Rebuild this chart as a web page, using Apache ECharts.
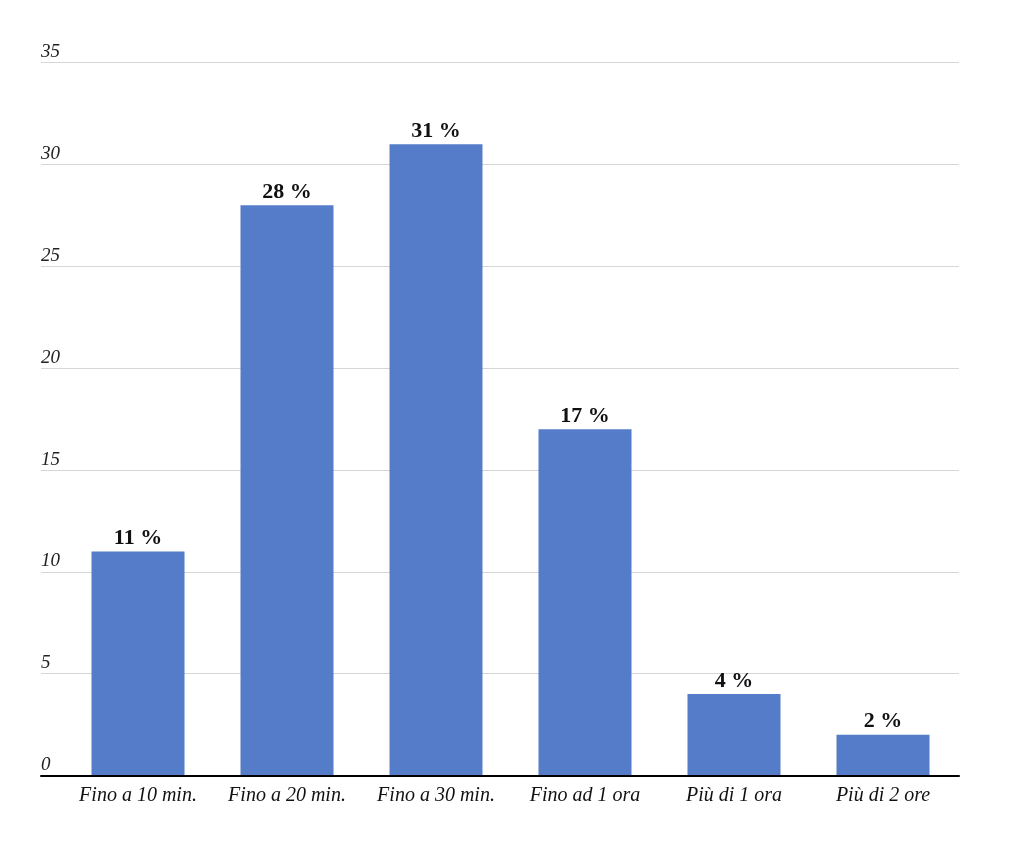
<!DOCTYPE html>
<html>
<head>
<meta charset="utf-8">
<script src="https://cdn.jsdelivr.net/npm/echarts@6/dist/echarts.min.js"></script>
<style>
html,body{margin:0;padding:0;background:#fff;}
#chart{width:1024px;height:844px;}
</style>
</head>
<body>
<div id="chart"></div>
<script>
const categories = ['Fino a 10 min.', 'Fino a 20 min.', 'Fino a 30 min.', 'Fino ad 1 ora', 'Più di 1 ora', 'Più di 2 ore'];
const values = [11, 28, 31, 17, 4, 2];
const yMin = 0, yMax = 35, yStep = 5;

const FONT = '"Liberation Serif", "Times New Roman", serif';
const chart = echarts.init(document.getElementById('chart'), null, {renderer: 'canvas'});

const option = {
  backgroundColor: '#ffffff',
  animation: false,
  grid: [
    {left: 41, right: 65, top: 62.7, bottom: 68.5},
    {left: 63.5, right: 66.5, top: 62.7, bottom: 68.5}
  ],
  xAxis: [
    {
      gridIndex: 0, type: 'category', data: categories, z: 5,
      axisLine: {show: true, lineStyle: {color: '#000', width: 2}},
      axisTick: {show: false}, axisLabel: {show: false}, splitLine: {show: false}
    },
    {
      gridIndex: 1, type: 'category', data: categories,
      axisLine: {show: false}, axisTick: {show: false},
      axisLabel: {
        show: true, interval: 0, hideOverlap: false, margin: 10, color: '#111',
        fontFamily: FONT, fontStyle: 'italic', fontSize: 20
      }
    }
  ],
  yAxis: [
    {
      gridIndex: 0, type: 'value', min: yMin, max: yMax, interval: yStep,
      axisLine: {show: false}, axisTick: {show: false},
      axisLabel: {
        inside: true, margin: 0, align: 'left', verticalAlign: 'bottom',
        padding: [0, 0, 1, 0],
        color: '#222', fontFamily: FONT, fontStyle: 'italic', fontSize: 19
      },
      splitLine: {show: true, lineStyle: {color: '#d6d6d6', width: 1}}
    },
    {
      gridIndex: 1, type: 'value', min: yMin, max: yMax, interval: yStep,
      show: false, splitLine: {show: false}
    }
  ],
  series: [
    {
      type: 'bar', xAxisIndex: 1, yAxisIndex: 1,
      data: values, barWidth: 93,
      itemStyle: {color: '#557CC8'},
      label: {
        show: true, position: 'top', distance: 2,
        formatter: p => p.value + ' %',
        color: '#111', fontFamily: FONT, fontWeight: 'bold', fontSize: 22
      }
    }
  ]
};
chart.setOption(option);
</script>
</body>
</html>
